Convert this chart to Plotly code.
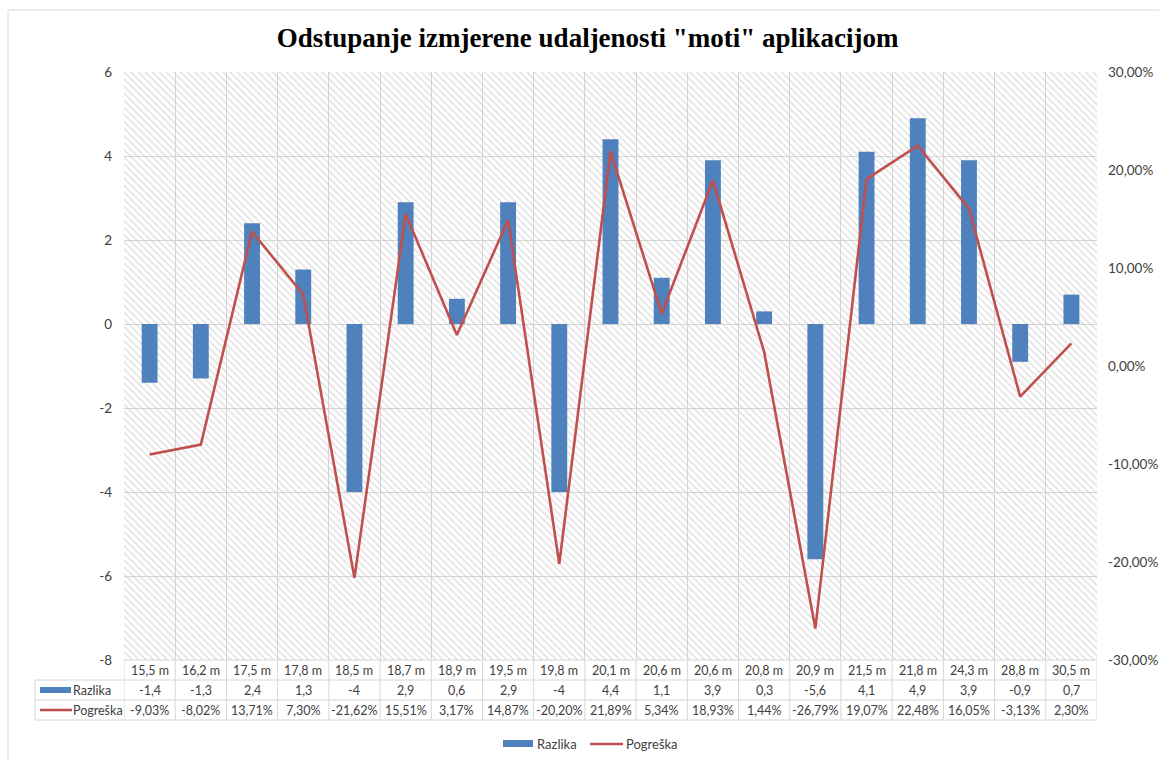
import plotly.graph_objects as go

# ---- data ----
categories = ["15,5 m", "16,2 m", "17,5 m", "17,8 m", "18,5 m", "18,7 m", "18,9 m",
              "19,5 m", "19,8 m", "20,1 m", "20,6 m", "20,6 m", "20,8 m", "20,9 m",
              "21,5 m", "21,8 m", "24,3 m", "28,8 m", "30,5 m"]
razlika = [-1.4, -1.3, 2.4, 1.3, -4, 2.9, 0.6, 2.9, -4, 4.4, 1.1, 3.9, 0.3, -5.6,
           4.1, 4.9, 3.9, -0.9, 0.7]
pogreska_pct = [-9.03, -8.02, 13.71, 7.30, -21.62, 15.51, 3.17, 14.87, -20.20, 21.89,
                5.34, 18.93, 1.44, -26.79, 19.07, 22.48, 16.05, -3.13, 2.30]
series_names = ["Razlika", "Pogreška"]
title_text = 'Odstupanje izmjerene udaljenosti "moti" aplikacijom'
left_ticks = [-8, -6, -4, -2, 0, 2, 4, 6]
right_ticks_pct = [-30, -20, -10, 0, 10, 20, 30]

# ---- layout geometry (pixels) ----
W, H = 1159, 760
PL, PR, PT, PB = 124, 1097, 72, 660
YMIN, YMAX = -8, 6
Y2MIN, Y2MAX = -0.3, 0.3

def px(xp):
    return (xp - PL) / (PR - PL)

def py(yp):
    return (PB - yp) / (PB - PT)

BLUE = "#4F81BD"
RED = "#C0504D"
GRID = "#d6d6d6"
TXT = "#404040"
FONT = "Lato"

n = len(categories)
idx = list(range(n))
pogreska = [v / 100 for v in pogreska_pct]

fig = go.Figure()

# hatched plot-area background (one full-width column per category)
fig.add_trace(go.Bar(
    x=idx, y=[YMAX - YMIN] * n, base=[YMIN] * n, width=1,
    marker=dict(color="rgba(0,0,0,0)", line=dict(width=0),
                pattern=dict(shape="\\", fgcolor="#c4c4c4", bgcolor="rgba(0,0,0,0)",
                             size=5, solidity=0.3)),
    hoverinfo="skip", showlegend=False))

fig.add_trace(go.Bar(
    x=idx, y=razlika, name=series_names[0], width=0.31,
    marker=dict(color=BLUE, line=dict(width=0)), showlegend=False,
    customdata=categories, hovertemplate="%{customdata}: %{y}<extra></extra>"))

fig.add_trace(go.Scatter(
    x=idx, y=pogreska, name=series_names[1], yaxis="y2", mode="lines",
    line=dict(color=RED, width=2.6), showlegend=False,
    customdata=categories, hovertemplate="%{customdata}: %{y:.2%}<extra></extra>"))

shapes = []
annotations = []

# data table lines
LINE = dict(color=GRID, width=1)
for yp in (680, 700, 720):
    shapes.append(dict(type="line", xref="paper", yref="paper",
                       x0=px(35), x1=px(PR), y0=py(yp), y1=py(yp), line=LINE, layer="above"))
shapes.append(dict(type="line", xref="paper", yref="paper",
                   x0=px(PL), x1=px(PR), y0=py(PB), y1=py(PB), line=LINE, layer="above"))
for i in range(n + 1):
    shapes.append(dict(type="line", xref="x", yref="paper",
                       x0=i - 0.5, x1=i - 0.5, y0=py(660), y1=py(720), line=LINE))
shapes.append(dict(type="line", xref="paper", yref="paper",
                   x0=px(35), x1=px(35), y0=py(680), y1=py(720), line=LINE))

# table text
tfont = dict(family=FONT, size=12.5, color=TXT)
for i in range(n):
    annotations.append(dict(x=i, y=py(670), xref="x", yref="paper", text=categories[i],
                            showarrow=False, font=tfont, xanchor="center", yanchor="middle"))
    annotations.append(dict(x=i, y=py(690), xref="x", yref="paper",
                            text=f"{razlika[i]:g}".replace(".", ","),
                            showarrow=False, font=tfont, xanchor="center", yanchor="middle"))
    annotations.append(dict(x=i, y=py(710), xref="x", yref="paper",
                            text=f"{pogreska_pct[i]:.2f}%".replace(".", ","),
                            showarrow=False, font=tfont, xanchor="center", yanchor="middle"))

# table row keys
rfont = dict(family=FONT, size=12.5, color=TXT)
lfont = dict(family=FONT, size=13, color=TXT)
shapes.append(dict(type="rect", xref="paper", yref="paper", x0=px(40), x1=px(71),
                   y0=py(693), y1=py(687), fillcolor=BLUE, line=dict(width=0)))
shapes.append(dict(type="line", xref="paper", yref="paper", x0=px(40), x1=px(72),
                   y0=py(710), y1=py(710), line=dict(color=RED, width=2.6)))
annotations.append(dict(x=px(71), y=py(690), xref="paper", yref="paper", text=series_names[0],
                        showarrow=False, font=rfont, xanchor="left", yanchor="middle"))
annotations.append(dict(x=px(71), y=py(710), xref="paper", yref="paper", text=series_names[1],
                        showarrow=False, font=rfont, xanchor="left", yanchor="middle"))

# bottom legend
shapes.append(dict(type="rect", xref="paper", yref="paper", x0=px(503), x1=px(533),
                   y0=py(747), y1=py(740), fillcolor=BLUE, line=dict(width=0)))
shapes.append(dict(type="line", xref="paper", yref="paper", x0=px(590), x1=px(623),
                   y0=py(744), y1=py(744), line=dict(color=RED, width=2.6)))
annotations.append(dict(x=px(535), y=py(744), xref="paper", yref="paper", text=series_names[0],
                        showarrow=False, font=lfont, xanchor="left", yanchor="middle"))
annotations.append(dict(x=px(624), y=py(744), xref="paper", yref="paper", text=series_names[1],
                        showarrow=False, font=lfont, xanchor="left", yanchor="middle"))

# chart border
shapes.append(dict(type="line", xref="paper", yref="paper", x0=px(8), x1=px(W + 5),
                   y0=py(10), y1=py(10), line=dict(color="#d9d9d9", width=1)))
shapes.append(dict(type="line", xref="paper", yref="paper", x0=px(8), x1=px(8),
                   y0=py(10), y1=py(H + 5), line=dict(color="#d9d9d9", width=1)))

fig.update_layout(
    width=W, height=H,
    margin=dict(l=PL, r=W - PR, t=PT, b=H - PB, pad=0, autoexpand=False),
    paper_bgcolor="white", plot_bgcolor="white",
    separators=", ",
    barmode="overlay",
    showlegend=False,
    title=dict(text=f"<b>{title_text}</b>", x=0.507, xref="container", xanchor="center",
               y=1 - 38 / H, yref="container", yanchor="middle",
               font=dict(family="Liberation Serif", size=27, color="#000000")),
    xaxis=dict(range=[-0.5, n - 0.5], tick0=-0.5, dtick=1, showticklabels=False,
               showgrid=True, gridcolor=GRID, gridwidth=1, zeroline=False, ticks="",
               showline=False, fixedrange=True, automargin=False),
    yaxis=dict(range=[YMIN, YMAX], tickmode="array", tickvals=left_ticks,
               ticktext=[str(v) for v in left_ticks],
               showgrid=True, gridcolor=GRID,
               zeroline=False, showline=False, ticks="", automargin=False,
               tickfont=dict(family=FONT, size=13.5, color="#404040"),
               ticklabelstandoff=11),
    yaxis2=dict(range=[Y2MIN, Y2MAX], tickmode="array",
                tickvals=[v / 100 for v in right_ticks_pct],
                ticktext=[f"{v:.2f}%".replace(".", ",") for v in right_ticks_pct],
                overlaying="y", side="right",
                showgrid=False, zeroline=False, showline=False, ticks="",
                automargin=False,
                tickfont=dict(family=FONT, size=13.5, color="#404040"),
                ticklabelstandoff=10),
    shapes=shapes,
    annotations=annotations,
)

fig.write_html("out.html", post_script="document.body.style.margin='0';",
               config={"displayModeBar": False})
